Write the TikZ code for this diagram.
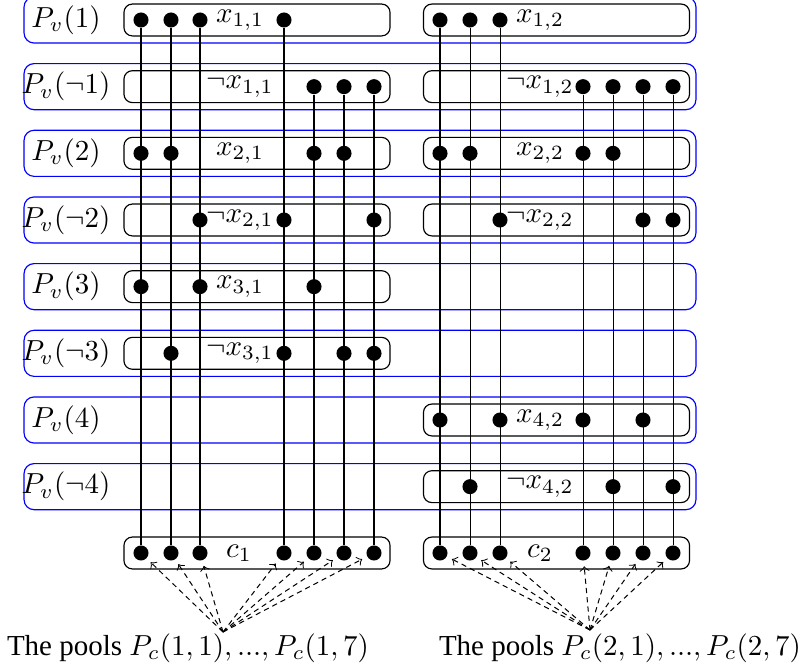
\documentclass[tikz,border=0pt]{standalone}
\usepackage{fontspec}
\setmainfont{Liberation Serif}
\begin{document}
\begin{tikzpicture}[x=0.345pt,y=-0.345pt,
  dotn/.style={circle,fill=black,inner sep=0pt,minimum size=5.2pt},
  vbox/.style={draw=blue,line width=0.4pt,rounded corners=3.45pt,minimum width=231.8pt,minimum height=15.9pt,inner sep=0pt},
  ibox/.style={draw=black,line width=0.4pt,rounded corners=2.9pt,minimum width=91.8pt,minimum height=11pt,inner sep=0pt},
  vlab/.style={inner sep=0pt},
  lit/.style={inner sep=0pt},
  wire/.style={draw=black,line width=0.35pt},
  poolarrow/.style={->,line width=0.35pt,dash pattern=on 1.8pt off 1.4pt,shorten >=1.8pt},
  pooltext/.style={inner sep=0pt}]
\useasboundingbox (0,0) rectangle (803,672);

% blue pools P_v
\foreach \k/\t in {1/{P_v(1)},2/{P_v(\neg 1)},3/{P_v(2)},4/{P_v(\neg 2)},5/{P_v(3)},6/{P_v(\neg 3)},7/{P_v(4)},8/{P_v(\neg 4)}} {
  \pgfmathsetmacro{\yy}{20+66.6667*(\k-1)}
  \node[vbox] (v\k) at (360,\yy) {};
  \node[vlab] (pv\k) at (66,\yy) {$\t$};
}

% left literal boxes
\foreach \k/\t in {1/{x_{1,1}},2/{\neg x_{1,1}},3/{x_{2,1}},4/{\neg x_{2,1}},5/{x_{3,1}},6/{\neg x_{3,1}}} {
  \pgfmathsetmacro{\yy}{20+66.6667*(\k-1)}
  \node[ibox] (L\k) at (257,\yy) {};
  \node[lit] (lL\k) at (240,\yy) {$\t$};
}
% right literal boxes
\foreach \k/\t in {1/{x_{1,2}},2/{\neg x_{1,2}},3/{x_{2,2}},4/{\neg x_{2,2}},7/{x_{4,2}},8/{\neg x_{4,2}}} {
  \pgfmathsetmacro{\yy}{20+66.6667*(\k-1)}
  \node[ibox] (R\k) at (556.5,\yy) {};
  \node[lit] (lR\k) at (540,\yy) {$\t$};
}

% clause boxes
\node[ibox] (cL) at (257,553) {};
\node[lit] (lcL) at (239,553) {$c_1$};
\node[ibox] (cR) at (556.5,553) {};
\node[lit] (lcR) at (540,553) {$c_2$};

% dots, left
\foreach \k/\cols in {1/{1,2,3,4},2/{5,6,7},3/{1,2,5,6},4/{3,4,7},5/{1,3,5},6/{2,4,6,7}} {
  \pgfmathsetmacro{\yy}{20+66.6667*(\k-1)}
  \foreach \c in \cols {
    \pgfmathsetmacro{\xx}{{141,171,200,284,314,344,374}[\c-1]}
    \node[dotn] (dL\k-\c) at (\xx,\yy) {};
  }
}
% dots, right
\foreach \k/\cols in {1/{1,2,3},2/{4,5,6,7},3/{1,2,4,5},4/{3,6,7},7/{1,3,4,6},8/{2,5,7}} {
  \pgfmathsetmacro{\yy}{20+66.6667*(\k-1)}
  \foreach \c in \cols {
    \pgfmathsetmacro{\xx}{{440,470,500,583,613,643,673}[\c-1]}
    \node[dotn] (dR\k-\c) at (\xx,\yy) {};
  }
}
% clause dots
\foreach \c in {1,...,7} {
  \pgfmathsetmacro{\xx}{{141,171,200,284,314,344,374}[\c-1]}
  \node[dotn] (cdL-\c) at (\xx,553) {};
  \pgfmathsetmacro{\xx}{{440,470,500,583,613,643,673}[\c-1]}
  \node[dotn] (cdR-\c) at (\xx,553) {};
}

% wires
\foreach \c/\r in {1/1,2/1,3/1,4/1,5/2,6/2,7/2}
  \draw[wire] (dL\r-\c) -- (cdL-\c);
\foreach \c/\r in {1/1,2/1,3/1,4/2,5/2,6/2,7/2}
  \draw[wire] (dR\r-\c) -- (cdR-\c);

% pool texts and arrows
\node[pooltext] (t1) at (188,648) {The pools $P_c(1,1), ..., P_c(1,7)$};
\node[pooltext] (t2) at (620,648) {The pools $P_c(2,1), ..., P_c(2,7)$};
\coordinate (s1) at (223,632);
\coordinate (s2) at (590,630);
\foreach \c in {1,...,7} {
  \draw[poolarrow] (s1) -- (cdL-\c);
  \draw[poolarrow] (s2) -- (cdR-\c);
}
\end{tikzpicture}
\end{document}
